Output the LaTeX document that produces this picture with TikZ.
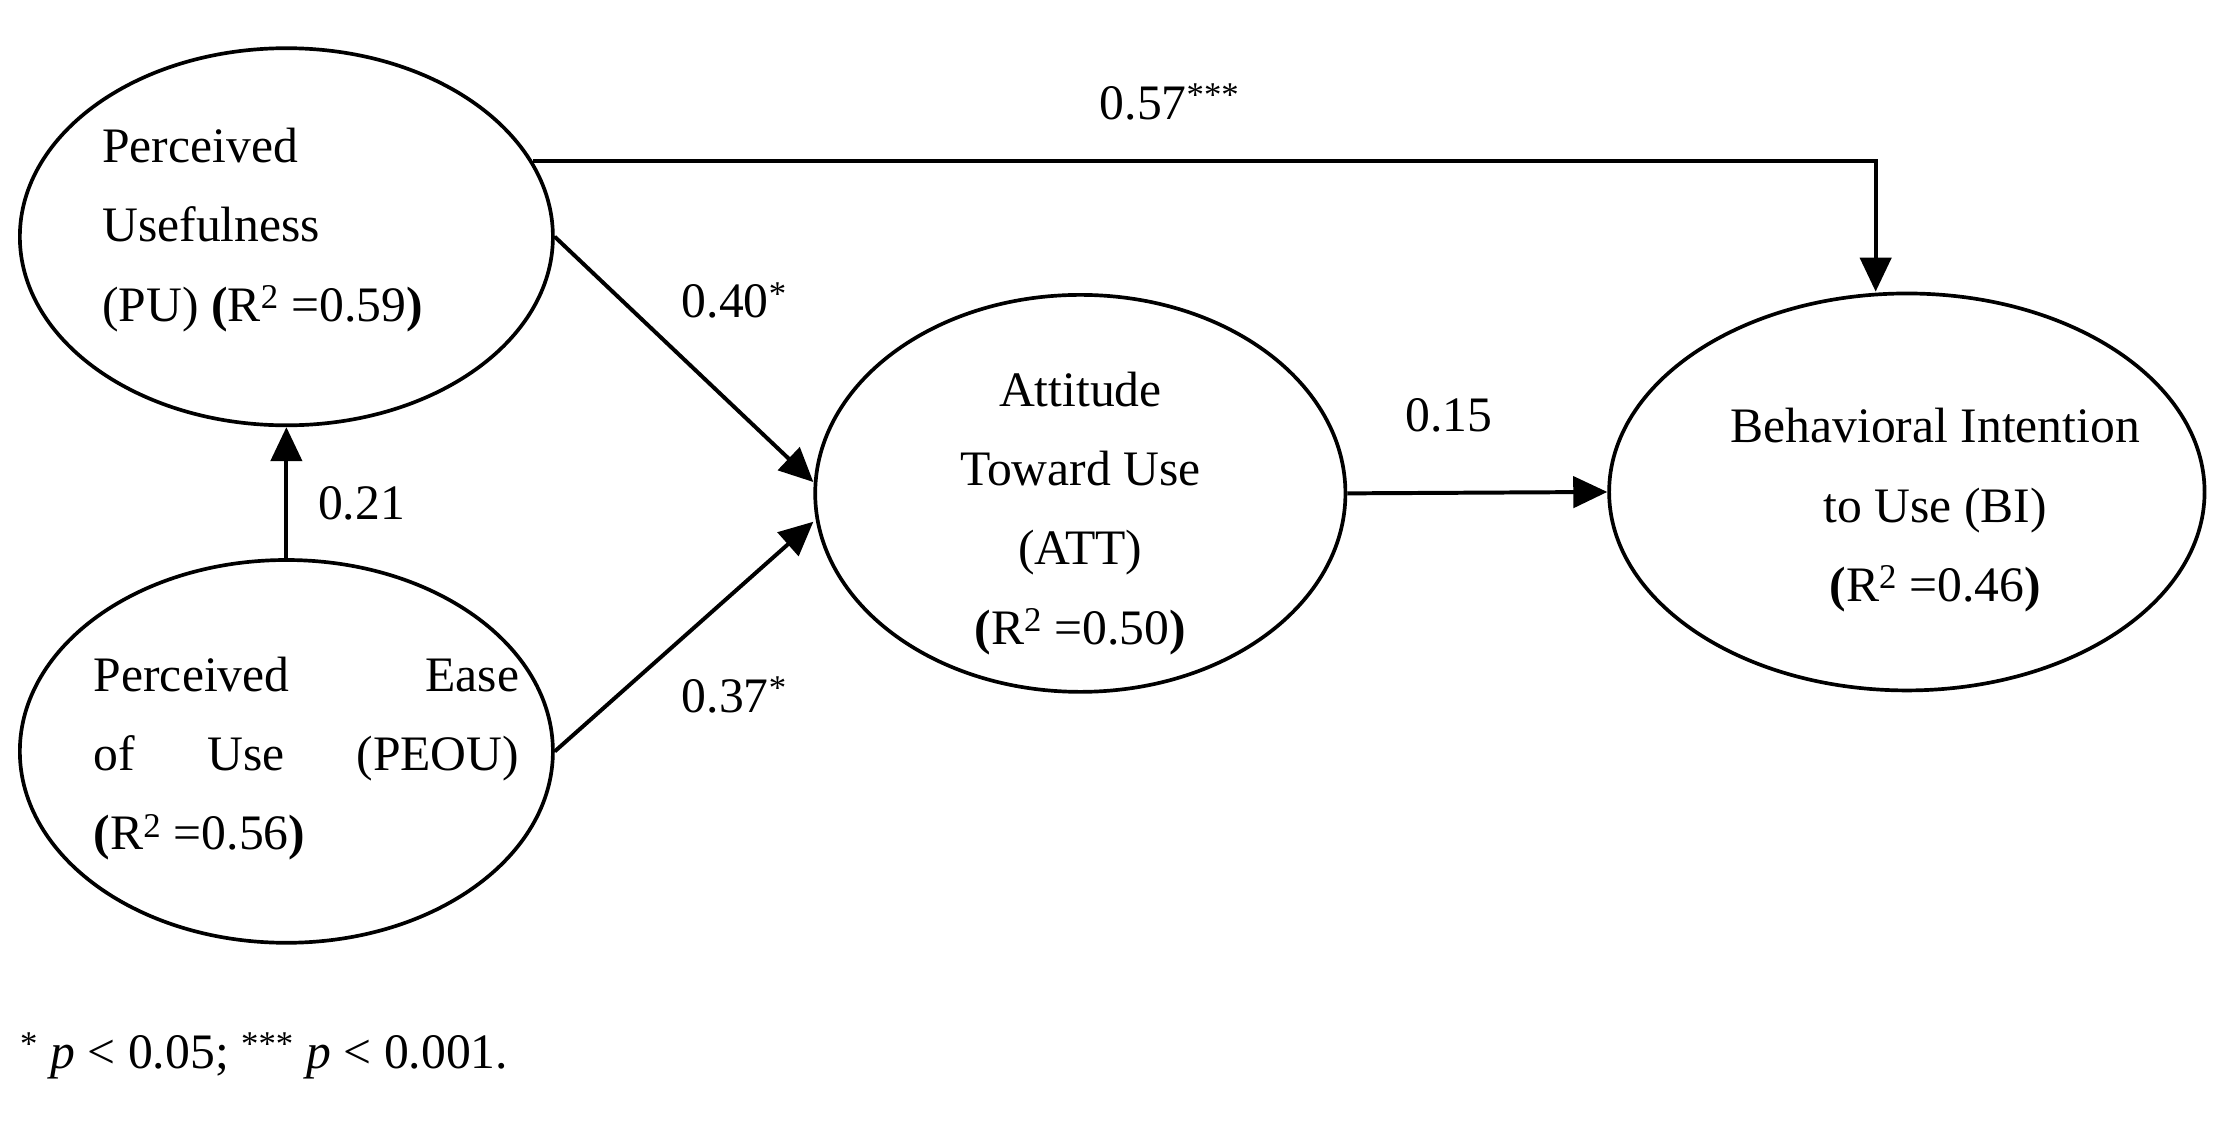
\documentclass[tikz,border=0pt]{standalone}
\usepackage{fontspec}
\setmainfont{Liberation Serif}
\usetikzlibrary{arrows.meta,shapes.geometric}
\begin{document}
\begin{tikzpicture}[x=1pt,y=-1pt,
  ell/.style={draw,ellipse,line width=2.6pt,inner sep=0pt},
  txt/.style={font=\fontsize{35}{56}\selectfont,inner sep=0pt},
  arr/.style={line width=2.8pt,-{Triangle[length=24pt,width=22pt]}},
  lab/.style={font=\fontsize{35}{42}\selectfont,inner sep=0pt}]
\useasboundingbox (0,0) rectangle (1568,799);
\node[ell,minimum width=376pt,minimum height=266pt] (pu) at (202,167) {};
\node[ell,minimum width=376pt,minimum height=270pt] (peou) at (202,530) {};
\node[ell,minimum width=374pt,minimum height=280pt] (att) at (762,348) {};
\node[ell,minimum width=420pt,minimum height=280pt] (bi) at (1345,347) {};
\node[txt,align=left,anchor=north west] (tpu) at (72,90) {Perceived\\Usefulness\\(PU) \textbf{(}R\textsuperscript{2} =0.59\textbf{)}};
\node[txt,anchor=north west,text width=300pt,align=justify] (tpeou) at (66,463) {Perceived\hfill Ease\\of\hfill Use\hfill (PEOU)\\\textbf{(}R\textsuperscript{2} =0.56\textbf{)}};
\node[txt,align=center] (tatt) at (762,362) {Attitude\\Toward Use\\(ATT)\\\textbf{(}R\textsuperscript{2} =0.50\textbf{)}};
\node[txt,align=center] (tbi) at (1365,360) {Behavioral Intention\\to Use (BI)\\\textbf{(}R\textsuperscript{2} =0.46\textbf{)}};
\draw[arr] (pu.17) -| ([xshift=-22pt]bi.north);
\draw[arr] (pu.east) -- ([yshift=8pt]att.west);
\draw[arr] (peou.east) -- ([yshift=-20pt]att.west);
\draw[arr] (peou.north) -- (pu.south);
\draw[arr] (att.east) -- (bi.west);
\node[lab] (l57) at (825,72) {0.57\textsuperscript{***}};
\node[lab] (l40) at (518,212) {0.40\textsuperscript{*}};
\node[lab] (l37) at (518,490) {0.37\textsuperscript{*}};
\node[lab] (l21) at (255,355) {0.21};
\node[lab] (l15) at (1022,293) {0.15};
\node[lab,anchor=west] (foot) at (14,745) {\textsuperscript{*} \textit{p} < 0.05; \textsuperscript{***} \textit{p} < 0.001.};
\end{tikzpicture}
\end{document}
